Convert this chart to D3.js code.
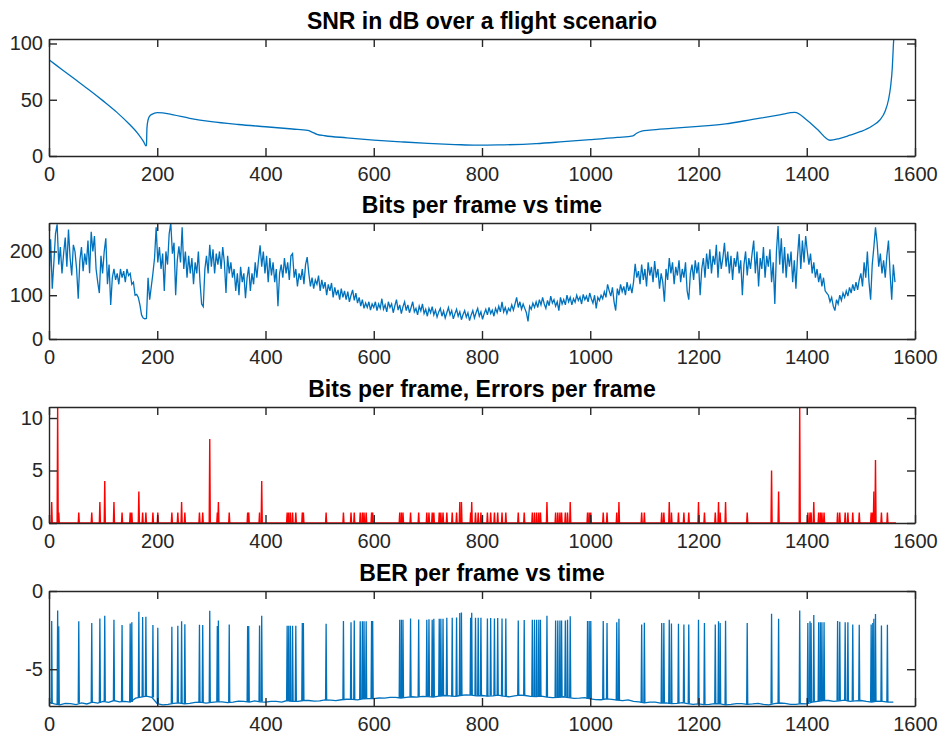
<!DOCTYPE html>
<html>
<head>
<meta charset="utf-8">
<script src="https://cdn.jsdelivr.net/npm/d3@7"></script>
<style>
  body { margin: 0; background: #fff; }
  text { font-family: "Liberation Sans", Arial, Helvetica, sans-serif; }
  .tick text { font-size: 20px; fill: #262626; }
  .domain, .tick line { stroke: #262626; stroke-width: 1.4; }
</style>
</head>
<body>
<script>
// ---- data ----
const xTicks = [0, 200, 400, 600, 800, 1000, 1200, 1400, 1600];

const titles = [
  "SNR in dB over a flight scenario",
  "Bits per frame vs time",
  "Bits per frame, Errors per frame",
  "BER per frame vs time"
];

// SNR curve (frame, dB)
const snrFrames = [0, 25, 50, 75, 100, 125, 150, 165, 175, 179, 180, 181, 183, 186, 190, 200, 210, 230, 260, 300, 350, 400, 450, 478, 485, 495, 510, 550, 600, 650, 700, 750, 790, 830, 900, 950, 1000, 1050, 1079, 1085, 1095, 1110, 1150, 1200, 1250, 1300, 1350, 1378, 1400, 1420, 1443, 1460, 1480, 1500, 1520, 1535, 1545, 1551, 1555, 1558, 1560, 1562];
const snrValues = [85.5, 76.5, 67.5, 58.5, 49, 39, 27.5, 19.5, 12.5, 9, 9.5, 25, 32, 35.5, 37, 38.5, 38.3, 36.5, 33.5, 30.5, 28, 26, 24, 22.8, 21.5, 19.3, 18, 16.2, 14.2, 12.6, 11.2, 10.2, 9.6, 9.8, 11, 12.7, 14.5, 16.5, 17.9, 20, 22.2, 23, 24.5, 26.3, 28.5, 32.5, 36.5, 38.7, 32, 23.5, 14, 15.5, 18.5, 21.8, 26.5, 32, 40, 50, 62, 78, 98, 115];

// bits per frame, one value every 3 frames starting at frame 0 (20 per row = 60 frames)
const bitsStep = 3;
const bitsValues = [
  130, 228, 115, 175, 240, 262, 170, 210, 150, 195, 232, 165, 250, 185, 145, 215, 200, 160, 92, 180,
  210, 155, 195, 170, 225, 150, 245, 200, 235, 160, 130, 105, 190, 150, 200, 230, 125, 170, 78, 140,
  160, 135, 150, 125, 160, 140, 155, 130, 160, 145, 150, 125, 130, 100, 102, 95, 78, 55, 48, 46,
  47, 140, 90, 120, 150, 185, 255, 175, 210, 160, 195, 110, 200, 170, 240, 265, 195, 220, 100, 180,
  212, 175, 255, 160, 200, 140, 190, 150, 185, 125, 175, 150, 200, 130, 80, 74, 160, 190, 150, 215,
  165, 205, 150, 195, 170, 200, 160, 210, 175, 105, 190, 150, 175, 140, 160, 110, 150, 100, 165, 130,
  150, 93, 140, 165, 110, 150, 125, 175, 140, 180, 214, 165, 200, 150, 190, 130, 185, 145, 175, 130,
  160, 75, 150, 170, 140, 185, 150, 175, 135, 190, 195, 140, 160, 120, 150, 135, 160, 125, 170, 187,
  150, 120, 140, 115, 135, 125, 145, 110, 135, 115, 130, 100, 125, 110, 128, 95, 118, 100, 112, 90,
  115, 95, 110, 90, 108, 85, 100, 112, 88, 105, 82, 95, 75, 90, 70, 82, 72, 85, 66, 80,
  72, 85, 65, 80, 70, 92, 68, 78, 62, 85, 72, 80, 60, 76, 90, 66, 78, 58, 74, 85,
  65, 78, 60, 72, 85, 62, 70, 55, 75, 64, 80, 58, 68, 52, 70, 60, 74, 55, 66, 50,
  62, 70, 52, 64, 48, 60, 72, 55, 65, 46, 58, 68, 52, 62, 44, 56, 65, 50, 60, 42,
  55, 65, 48, 60, 70, 52, 62, 45, 58, 68, 55, 72, 58, 66, 52, 70, 60, 75, 62, 85,
  62, 72, 58, 70, 64, 78, 66, 80, 95, 72, 85, 68, 80, 70, 60, 40, 75, 68, 82, 72,
  85, 72, 90, 78, 95, 80, 70, 88, 76, 98, 82, 90, 75, 85, 65, 95, 80, 90, 78, 100,
  85, 95, 78, 92, 84, 100, 88, 96, 80, 102, 90, 98, 85, 105, 92, 82, 100, 70, 95, 88,
  100, 92, 108, 95, 125, 110, 98, 118, 85, 65, 115, 100, 125, 108, 120, 100, 130, 110, 122, 105,
  130, 172, 140, 155, 125, 170, 135, 160, 120, 175, 145, 165, 130, 178, 140, 160, 115, 150, 130, 85,
  160, 135, 185, 150, 175, 125, 165, 145, 180, 130, 160, 140, 175, 110, 90, 150, 170, 135, 180, 150,
  175, 100, 160, 185, 140, 195, 160, 205, 150, 190, 170, 215, 140, 200, 160, 185, 220, 165, 200, 150,
  190, 135, 185, 165, 200, 150, 180, 100, 170, 200, 145, 185, 160, 195, 225, 150, 200, 120, 185, 160,
  210, 140, 190, 165, 205, 130, 175, 80, 200, 258, 170, 230, 150, 210, 140, 195, 165, 200, 130, 180,
  115, 190, 240, 160, 225, 175, 235, 200, 170, 195, 150, 175, 140, 160, 130, 150, 120, 140, 110, 105,
  100, 85, 95, 75, 65, 90, 80, 100, 88, 105, 95, 110, 98, 118, 105, 125, 110, 130, 112, 135,
  150, 120, 175, 140, 200, 130, 90, 170, 210, 255, 220, 165, 195, 150, 180, 140, 190, 225, 150, 90,
  170, 130
];

// frames with errors, error count, and log10 BER at that frame
const errFrames = [5, 16, 18, 55, 79, 94, 103, 120, 135, 150, 153, 166, 173, 179, 192, 201, 227, 238, 245, 251, 278, 284, 297, 311, 313, 333, 367, 369, 389, 393, 440, 443, 446, 450, 456, 468, 470, 512, 544, 558, 564, 575, 579, 582, 586, 596, 598, 648, 651, 654, 668, 683, 698, 702, 708, 711, 721, 724, 728, 735, 745, 753, 759, 762, 779, 781, 788, 793, 798, 810, 816, 823, 829, 837, 844, 867, 878, 893, 897, 901, 905, 908, 920, 936, 940, 944, 947, 954, 958, 963, 995, 998, 1001, 1024, 1031, 1049, 1053, 1095, 1100, 1132, 1136, 1146, 1150, 1163, 1173, 1182, 1200, 1211, 1231, 1237, 1240, 1250, 1290, 1335, 1348, 1387, 1402, 1406, 1408, 1413, 1422, 1425, 1428, 1432, 1457, 1461, 1471, 1476, 1485, 1497, 1519, 1522, 1524, 1527, 1538, 1549];
const errCounts = [2, 11, 1, 1, 1, 2, 4, 2, 1, 1, 1, 3, 1, 1, 1, 1, 1, 1, 2, 1, 1, 1, 8, 1, 2, 1, 1, 1, 1, 4, 1, 1, 1, 1, 1, 1, 1, 1, 1, 1, 1, 1, 1, 1, 1, 1, 1, 1, 1, 1, 1, 1, 1, 1, 1, 1, 1, 1, 1, 1, 1, 1, 2, 2, 1, 2, 1, 1, 1, 1, 1, 1, 1, 1, 1, 1, 1, 1, 1, 1, 1, 1, 2, 1, 1, 1, 1, 1, 1, 2, 1, 1, 1, 1, 1, 1, 2, 1, 1, 1, 1, 2, 1, 1, 1, 1, 2, 1, 1, 2, 1, 2, 1, 5, 3, 11, 1, 1, 1, 2, 1, 1, 1, 1, 1, 1, 1, 1, 1, 1, 1, 1, 3, 6, 1, 1];
const berPeaks = [-1.92, -1.24, -2.26, -1.94, -2.05, -1.75, -1.58, -1.84, -2.18, -2.07, -2.0, -1.32, -1.67, -1.65, -2.18, -2.35, -2.29, -2.22, -1.94, -2.12, -2.16, -2.18, -1.26, -2.24, -1.88, -2.14, -2.24, -2.24, -2.2, -1.58, -2.22, -2.22, -2.22, -2.22, -2.22, -2.05, -2.05, -2.09, -1.92, -2.0, -1.88, -1.94, -1.94, -1.94, -1.94, -1.92, -1.92, -1.84, -1.84, -1.84, -1.75, -1.82, -1.84, -1.8, -1.84, -1.78, -1.77, -1.77, -1.77, -1.71, -1.71, -1.69, -1.41, -1.37, -1.71, -1.39, -1.71, -1.71, -1.71, -1.75, -1.73, -1.75, -1.73, -1.75, -1.75, -1.88, -1.86, -1.84, -1.84, -1.84, -1.84, -1.84, -1.58, -1.88, -1.88, -1.88, -1.88, -1.88, -1.84, -1.62, -1.92, -1.92, -1.92, -1.92, -2.05, -2.0, -1.77, -2.14, -2.03, -2.05, -2.05, -1.84, -2.07, -2.09, -2.14, -2.14, -1.84, -2.05, -2.14, -1.94, -2.05, -1.9, -2.05, -1.45, -1.77, -1.24, -2.05, -1.94, -2.05, -1.54, -1.99, -1.99, -1.99, -1.99, -1.92, -1.97, -1.99, -1.99, -2.14, -2.16, -2.14, -2.05, -1.77, -1.47, -2.2, -2.16];

// log10 BER floor, one value every 10 frames starting at frame 0 (20 per row = 200 frames)
const berStep = 10;
const berBase = [
  -7.10, -7.22, -7.28, -7.18, -7.20, -7.26, -7.15, -7.22, -7.10, -7.16, -7.05, -7.12, -7.00, -7.08, -7.05, -7.10, -6.85, -6.78, -6.72, -6.80,
  -7.20, -7.28, -7.25, -7.18, -7.15, -7.22, -7.18, -7.12, -7.10, -7.16, -7.12, -7.08, -7.08, -7.14, -7.10, -7.04, -7.05, -7.10, -7.02, -7.08,
  -7.10, -7.05, -7.05, -7.10, -7.00, -7.06, -7.05, -7.00, -7.00, -7.04, -7.02, -6.96, -6.98, -7.00, -6.95, -6.92, -6.93, -6.96, -6.90, -6.88,
  -6.88, -6.84, -6.85, -6.80, -6.80, -6.84, -6.80, -6.76, -6.78, -6.74, -6.75, -6.78, -6.72, -6.68, -6.70, -6.74, -6.68, -6.64, -6.65, -6.70,
  -6.68, -6.72, -6.70, -6.66, -6.72, -6.76, -6.70, -6.66, -6.68, -6.74, -6.75, -6.72, -6.78, -6.82, -6.80, -6.76, -6.82, -6.86, -6.85, -6.82,
  -6.90, -6.94, -6.95, -6.90, -6.92, -6.98, -7.00, -6.96, -7.05, -7.08, -7.15, -7.10, -7.10, -7.16, -7.15, -7.20, -7.18, -7.14, -7.20, -7.24,
  -7.22, -7.26, -7.25, -7.20, -7.22, -7.28, -7.25, -7.20, -7.20, -7.25, -7.22, -7.18, -7.25, -7.28, -7.20, -7.16, -7.18, -7.24, -7.25, -7.20,
  -7.22, -7.10, -7.05, -7.00, -7.00, -7.06, -7.02, -6.98, -7.05, -7.02, -7.00, -7.06, -7.10, -7.04, -7.05, -7.10, -7.10
];
const lastFrame = 1565;

// ---- layout ----
const w = 941, h = 734;
const x0 = 49, x1 = 915;
const blue = "#0072BD", red = "#FF0000";

const svg = d3.select("body").append("svg")
  .attr("width", w).attr("height", h);

const x = d3.scaleLinear().domain([0, 1600]).range([x0, x1]);
const fmt = d => String(d);

function panel(i, top, bottom, yDomain, yTicks) {
  const y = d3.scaleLinear().domain(yDomain).range([bottom, top]);
  const g = svg.append("g");

  g.append("clipPath").attr("id", "clip" + i)
    .append("rect")
    .attr("x", x0).attr("y", top)
    .attr("width", x1 - x0).attr("height", bottom - top);

  g.append("text")
    .attr("x", (x0 + x1) / 2)
    .attr("y", top - 10)
    .attr("text-anchor", "middle")
    .attr("font-weight", "bold")
    .attr("font-size", 23)
    .attr("fill", "#000")
    .text(titles[i]);

  const plot = g.append("g").attr("clip-path", `url(#clip${i})`);

  const axes = () => {
    g.append("g").attr("transform", `translate(0,${bottom})`)
      .call(d3.axisBottom(x).tickValues(xTicks).tickFormat(fmt).tickSizeInner(-8).tickSizeOuter(0).tickPadding(11));
    g.append("g").attr("transform", `translate(0,${top})`)
      .call(d3.axisTop(x).tickValues(xTicks).tickSizeInner(-8).tickSizeOuter(0).tickFormat(""));
    g.append("g").attr("transform", `translate(${x0},0)`)
      .call(d3.axisLeft(y).tickValues(yTicks).tickFormat(fmt).tickSizeInner(-8).tickSizeOuter(0).tickPadding(6));
    g.append("g").attr("transform", `translate(${x1},0)`)
      .call(d3.axisRight(y).tickValues(yTicks).tickSizeInner(-8).tickSizeOuter(0).tickFormat(""));
  };
  return {plot, y, axes};
}

// 1. SNR
const p1 = panel(0, 39, 156, [0, 104], [0, 50, 100]);
p1.plot.append("path")
  .datum(snrFrames.map((f, k) => [f, snrValues[k]]))
  .attr("fill", "none").attr("stroke", blue).attr("stroke-width", 1.3)
  .attr("d", d3.line().x(d => x(d[0])).y(d => p1.y(d[1])).curve(d3.curveMonotoneX));
p1.axes();

// 2. Bits per frame
const p2 = panel(1, 223, 339, [0, 265], [0, 100, 200]);
p2.plot.append("path")
  .datum(bitsValues)
  .attr("fill", "none").attr("stroke", blue).attr("stroke-width", 1.3)
  .attr("d", d3.line().x((d, k) => x(k * bitsStep)).y(d => p2.y(d)));
p2.axes();

// 3. Errors per frame
const p3 = panel(2, 407, 523, [0, 11.05], [0, 5, 10]);
const spikeLine = d3.line().x(d => x(d[0])).y(d => d[1]);
p3.plot.append("path")
  .attr("fill", "none").attr("stroke", red).attr("stroke-width", 1.4)
  .attr("d", spikeLine([[0, p3.y(0)], [lastFrame, p3.y(0)]]));
p3.plot.selectAll("path.spike")
  .data(errFrames)
  .join("path").attr("class", "spike")
  .attr("fill", "none").attr("stroke", red).attr("stroke-width", 1.4)
  .attr("d", (f, k) => spikeLine([[f - 1, p3.y(0)], [f, p3.y(errCounts[k])], [f + 1, p3.y(0)]]));
p3.axes();

// 4. BER
const p4 = panel(3, 591, 706, [-7.35, 0], [-5, 0]);
const baseAt = f => berBase[Math.min(berBase.length - 1, Math.round(f / berStep))];
p4.plot.append("path")
  .datum(berBase.map((v, k) => [Math.min(k * berStep, lastFrame), v]))
  .attr("fill", "none").attr("stroke", blue).attr("stroke-width", 1.3)
  .attr("d", d3.line().x(d => x(d[0])).y(d => p4.y(d[1])));
p4.plot.selectAll("path.spike")
  .data(errFrames)
  .join("path").attr("class", "spike")
  .attr("fill", "none").attr("stroke", blue).attr("stroke-width", 1.3)
  .attr("d", (f, k) => spikeLine([[f - 1, p4.y(baseAt(f))], [f, p4.y(berPeaks[k])], [f + 1, p4.y(baseAt(f))]]));
p4.axes();
</script>
</body>
</html>
